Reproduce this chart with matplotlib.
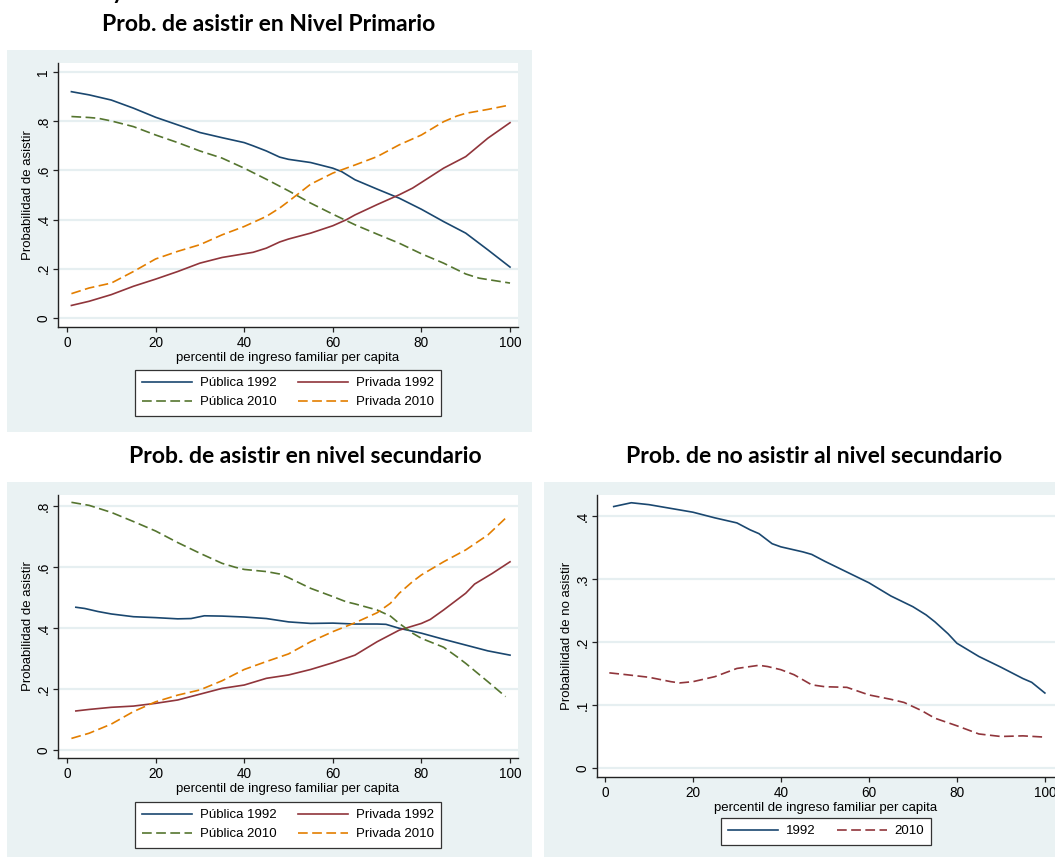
import matplotlib
matplotlib.use("Agg")
import matplotlib.pyplot as plt
from matplotlib.patches import Rectangle

# ---------------- data ----------------
# Panel 1: Prob. de asistir en Nivel Primario
p1_pub92_x = [1, 5, 10, 15, 20, 25, 30, 35, 40, 42, 45, 48, 50, 55, 60, 62, 65, 70, 75, 80, 85, 90, 95, 100]
p1_pub92_y = [0.920, 0.907, 0.886, 0.853, 0.816, 0.785, 0.754, 0.733, 0.713, 0.700, 0.679, 0.654, 0.645,
              0.632, 0.609, 0.595, 0.562, 0.524, 0.487, 0.442, 0.392, 0.345, 0.277, 0.207]
p1_priv92_x = [1, 5, 10, 15, 20, 25, 30, 35, 40, 42, 45, 48, 50, 55, 60, 63, 65, 70, 75, 78, 80, 85, 90, 95, 100]
p1_priv92_y = [0.051, 0.068, 0.095, 0.129, 0.158, 0.189, 0.223, 0.246, 0.261, 0.267, 0.284, 0.309, 0.321,
               0.345, 0.375, 0.399, 0.419, 0.461, 0.501, 0.528, 0.551, 0.609, 0.656, 0.731, 0.794]
p1_pub10_x = [1, 5, 7, 10, 15, 20, 25, 30, 35, 40, 45, 50, 55, 60, 65, 70, 75, 80, 85, 90, 93, 100]
p1_pub10_y = [0.819, 0.815, 0.812, 0.801, 0.778, 0.744, 0.713, 0.679, 0.650, 0.609, 0.564, 0.517, 0.467,
              0.422, 0.379, 0.341, 0.304, 0.261, 0.223, 0.179, 0.162, 0.142]
p1_priv10_x = [1, 5, 10, 15, 20, 25, 30, 35, 40, 45, 48, 50, 55, 60, 65, 70, 75, 80, 85, 88, 90, 95, 100]
p1_priv10_y = [0.099, 0.122, 0.142, 0.189, 0.240, 0.271, 0.298, 0.338, 0.372, 0.413, 0.447, 0.474, 0.544,
               0.589, 0.622, 0.656, 0.704, 0.744, 0.798, 0.821, 0.832, 0.848, 0.866]

# Panel 2: Prob. de asistir en nivel secundario
p2_pub92_x = [2, 4, 7, 10, 15, 20, 25, 28, 31, 35, 40, 45, 50, 55, 60, 65, 70, 72, 75, 80, 85, 90, 95, 100]
p2_pub92_y = [0.468, 0.464, 0.454, 0.446, 0.437, 0.434, 0.430, 0.431, 0.440, 0.439, 0.436, 0.431, 0.420,
              0.415, 0.416, 0.413, 0.413, 0.412, 0.399, 0.383, 0.363, 0.344, 0.325, 0.311]
p2_priv92_x = [2, 5, 10, 15, 20, 25, 30, 35, 40, 45, 50, 55, 60, 65, 70, 75, 80, 82, 85, 90, 92, 96, 100]
p2_priv92_y = [0.128, 0.133, 0.140, 0.144, 0.153, 0.164, 0.183, 0.202, 0.213, 0.235, 0.246, 0.264, 0.286,
               0.311, 0.355, 0.393, 0.415, 0.428, 0.459, 0.514, 0.544, 0.579, 0.617]
p2_pub10_x = [1, 5, 10, 15, 20, 25, 30, 35, 38, 40, 45, 48, 50, 55, 60, 63, 65, 70, 73, 75, 78, 80, 85,
              88, 90, 95, 99]
p2_pub10_y = [0.812, 0.802, 0.779, 0.749, 0.718, 0.680, 0.645, 0.612, 0.599, 0.592, 0.585, 0.577, 0.565,
              0.530, 0.503, 0.486, 0.479, 0.459, 0.439, 0.415, 0.383, 0.366, 0.337, 0.306, 0.284, 0.224, 0.175]
p2_priv10_x = [1, 5, 10, 15, 20, 25, 30, 35, 40, 45, 50, 55, 60, 65, 70, 73, 75, 78, 80, 85, 90, 95, 99]
p2_priv10_y = [0.038, 0.055, 0.085, 0.126, 0.158, 0.180, 0.197, 0.227, 0.264, 0.290, 0.315, 0.355, 0.388,
               0.417, 0.450, 0.481, 0.514, 0.552, 0.574, 0.617, 0.656, 0.705, 0.760]

# Panel 3: Prob. de no asistir al nivel secundario
p3_92_x = [2, 6, 10, 15, 20, 25, 30, 33, 35, 38, 40, 45, 47, 50, 55, 60, 65, 70, 73, 75, 78, 80, 85, 90,
           95, 97, 100]
p3_92_y = [0.415, 0.421, 0.418, 0.412, 0.406, 0.397, 0.389, 0.378, 0.372, 0.356, 0.351, 0.343, 0.339,
           0.328, 0.311, 0.294, 0.273, 0.256, 0.243, 0.232, 0.213, 0.198, 0.177, 0.160, 0.142, 0.136, 0.119]
p3_10_x = [1, 5, 10, 15, 17, 20, 25, 30, 35, 37, 40, 43, 47, 50, 55, 60, 65, 68, 72, 75, 80, 85, 90, 95, 100]
p3_10_y = [0.151, 0.148, 0.144, 0.137, 0.135, 0.137, 0.145, 0.158, 0.163, 0.161, 0.156, 0.148, 0.132,
           0.129, 0.128, 0.116, 0.109, 0.104, 0.091, 0.079, 0.067, 0.054, 0.050, 0.051, 0.049]

x_ticks = [0, 20, 40, 60, 80, 100]
x_ticklabels = ["0", "20", "40", "60", "80", "100"]
p1_yticks = [0, 0.2, 0.4, 0.6, 0.8, 1.0]
p1_yticklabels = ["0", ".2", ".4", ".6", ".8", "1"]
p2_yticks = [0, 0.2, 0.4, 0.6, 0.8]
p2_yticklabels = ["0", ".2", ".4", ".6", ".8"]
p3_yticks = [0, 0.1, 0.2, 0.3, 0.4]
p3_yticklabels = ["0", ".1", ".2", ".3", ".4"]

titles = ["Prob. de asistir en Nivel Primario",
          "Prob. de asistir en nivel secundario",
          "Prob. de no asistir al nivel secundario"]
xlabel = "percentil de ingreso familiar per capita"
ylabel_asistir = "Probabilidad de asistir"
ylabel_no = "Probabilidad de no asistir"
legend4 = ["Pública 1992", "Privada 1992", "Pública 2010", "Privada 2010"]
legend2 = ["1992", "2010"]

# ---------------- style ----------------
W, H = 1055, 857
NAVY = "#1A476F"
MAROON = "#90353B"
GREEN = "#55752F"
ORANGE = "#E37E00"
BG = "#EAF2F3"
GRID = "#E6EFF1"
AXC = "#222222"
DASH = (7.0, 3.2)

plt.rcParams["font.family"] = ["Liberation Sans", "DejaVu Sans"]
plt.rcParams["lines.scale_dashes"] = False

fig = plt.figure(figsize=(W / 100, H / 100), dpi=100)
fig.patch.set_facecolor("white")


def box(l, t, r, b):
    return [l / W, 1 - b / H, (r - l) / W, (b - t) / H]


# gray plot-region backgrounds
for (l, t, r, b) in [(7, 50, 532, 432), (7, 482, 532, 857), (544, 482, 1055, 857)]:
    fig.add_artist(Rectangle((l / W, 1 - b / H), (r - l) / W, (b - t) / H,
                             transform=fig.transFigure, facecolor=BG, edgecolor="none", zorder=0))


def style_axes(ax, xlim, ylim, yticks, yticklabels, ylabel):
    ax.set_facecolor("white")
    ax.set_xlim(*xlim)
    ax.set_ylim(*ylim)
    for s in ["top", "right"]:
        ax.spines[s].set_visible(False)
    for s in ["left", "bottom"]:
        ax.spines[s].set_color(AXC)
        ax.spines[s].set_linewidth(1.0)
    ax.set_xticks(x_ticks)
    ax.set_xticklabels(x_ticklabels, fontsize=9.8)
    ax.set_yticks(yticks)
    ax.set_yticklabels(yticklabels, fontsize=9.8, rotation=90, va="center")
    ax.tick_params(axis="both", direction="out", length=3.6, width=0.9, color=AXC)
    ax.tick_params(axis="x", pad=3.2)
    ax.tick_params(axis="y", pad=1.8)
    for y in yticks:
        ax.axhline(y, color=GRID, lw=1.6, zorder=0.5)
    ax.set_xlabel(xlabel, fontsize=9.5, labelpad=0.8)
    ax.set_ylabel(ylabel, fontsize=9.5, labelpad=1.5)


def add_legend(ax, handles, labels, cx, top):
    leg = ax.legend(handles, labels, ncol=2, loc="upper center",
                    bbox_to_anchor=(cx / W, 1 - top / H), bbox_transform=fig.transFigure,
                    fontsize=9.5, frameon=True, fancybox=False, framealpha=1,
                    edgecolor="#333333", handlelength=3.8, handletextpad=0.6,
                    columnspacing=1.6, labelspacing=0.5, borderpad=0.55, borderaxespad=0)
    leg.get_frame().set_linewidth(0.9)
    return leg


LW = 1.2

# ---- panel 1 ----
ax1 = fig.add_axes(box(58, 63, 518, 327))
style_axes(ax1, (-2.03, 101.8), (-0.0366, 1.0366), p1_yticks, p1_yticklabels, ylabel_asistir)
h1, = ax1.plot(p1_pub92_x, p1_pub92_y, color=NAVY, lw=LW)
h2, = ax1.plot(p1_priv92_x, p1_priv92_y, color=MAROON, lw=LW)
h3, = ax1.plot(p1_pub10_x, p1_pub10_y, color=GREEN, lw=LW, dashes=DASH)
h4, = ax1.plot(p1_priv10_x, p1_priv10_y, color=ORANGE, lw=LW, dashes=DASH)
add_legend(ax1, [h1, h3, h2, h4], [legend4[0], legend4[2], legend4[1], legend4[3]], 288, 370)

# ---- panel 2 ----
ax2 = fig.add_axes(box(58, 495, 518, 758))
style_axes(ax2, (-2.03, 101.8), (-0.0262, 0.836), p2_yticks, p2_yticklabels, ylabel_asistir)
g1, = ax2.plot(p2_pub92_x, p2_pub92_y, color=NAVY, lw=LW)
g2, = ax2.plot(p2_priv92_x, p2_priv92_y, color=MAROON, lw=LW)
g3, = ax2.plot(p2_pub10_x, p2_pub10_y, color=GREEN, lw=LW, dashes=DASH)
g4, = ax2.plot(p2_priv10_x, p2_priv10_y, color=ORANGE, lw=LW, dashes=DASH)
add_legend(ax2, [g1, g3, g2, g4], [legend4[0], legend4[2], legend4[1], legend4[3]], 288, 802)

# ---- panel 3 ----
ax3 = fig.add_axes(box(597, 495, 1055, 777))
style_axes(ax3, (-1.8, 102.3), (-0.0143, 0.4333), p3_yticks, p3_yticklabels, ylabel_no)
k1, = ax3.plot(p3_92_x, p3_92_y, color=NAVY, lw=LW)
k2, = ax3.plot(p3_10_x, p3_10_y, color=MAROON, lw=LW, dashes=DASH)
add_legend(ax3, [k1, k2], legend2, 826, 818)

# ---- titles ----
tfont = dict(family=["Lato", "DejaVu Sans"], fontweight="bold", fontsize=16.5, color="black")
fig.text(269 / W, 1 - 31 / H, titles[0], ha="center", va="baseline", **tfont)
fig.text(305 / W, 1 - 463 / H, titles[1], ha="center", va="baseline", **tfont)
fig.text(814 / W, 1 - 463 / H, titles[2], ha="center", va="baseline", **tfont)
# cut-off fragment of a heading above the figure (as in the reference)
fig.text(118 / W, 1 + 1 / H, "y", ha="center", va="baseline", **tfont)

fig.savefig("out.png", dpi=100, facecolor="white")
